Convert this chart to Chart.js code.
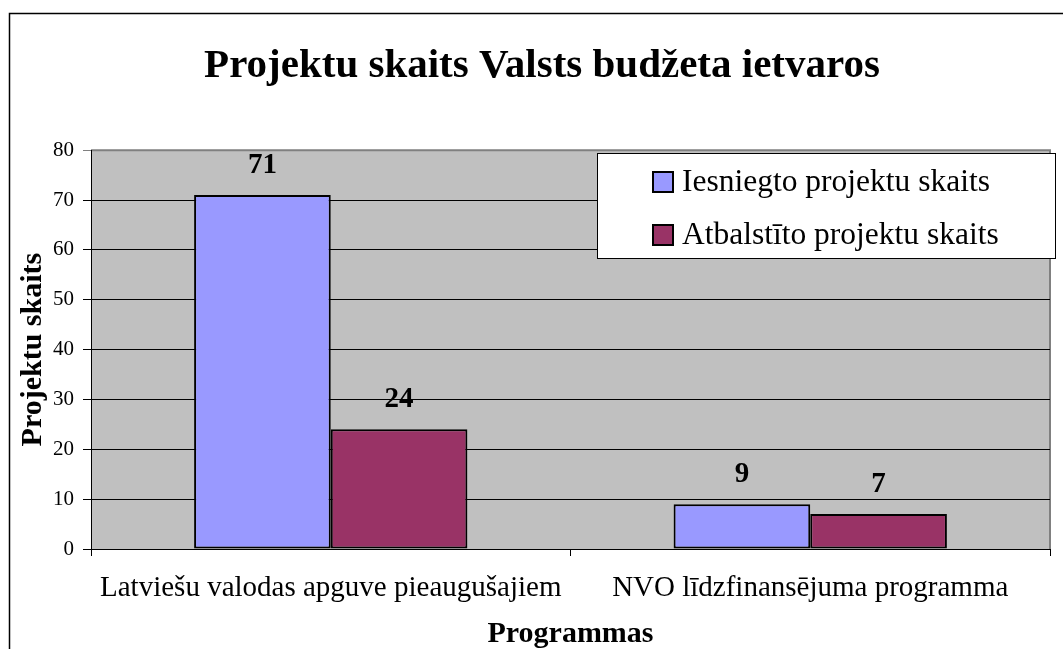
<!DOCTYPE html>
<html>
<head>
<meta charset="utf-8">
<script src="https://cdn.jsdelivr.net/npm/chart.js@4"></script>
<style>
  html, body { margin: 0; padding: 0; background: #fff; overflow: hidden; }
  #wrap { width: 1063px; height: 649px; }
</style>
</head>
<body>
<div id="wrap"><canvas id="chart"></canvas></div>
<script>
// ── Data ───────────────────────────────────────────────────────────────────
const programmas = ['Latviešu valodas apguve pieaugušajiem', 'NVO līdzfinansējuma programma'];
const iesniegti  = [71, 9];
const atbalstiti = [24, 7];
const yTicks     = [0, 10, 20, 30, 40, 50, 60, 70, 80];

const SERIF = '"Liberation Serif", "Times New Roman", serif';
Chart.defaults.font.family = SERIF;
Chart.defaults.color = '#000';

// ── Plot background, outer frame ───────────────────────────────────────────
const frame = {
  id: 'frame',
  beforeDraw(chart) {
    const { ctx, chartArea: a } = chart;
    ctx.save();
    ctx.fillStyle = '#fff';
    ctx.fillRect(0, 0, chart.width, chart.height);
    ctx.strokeStyle = '#000';
    ctx.lineWidth = 1.5;
    ctx.strokeRect(9.5, 13.5, 1200, 800);
    ctx.fillStyle = '#c0c0c0';
    ctx.fillRect(a.left, a.top, a.right - a.left, a.bottom - a.top);
    ctx.strokeStyle = '#808080';
    ctx.lineWidth = 2;
    ctx.beginPath();
    ctx.moveTo(a.left, a.top); ctx.lineTo(a.right, a.top); ctx.lineTo(a.right, a.bottom);
    ctx.stroke();
    ctx.restore();
  }
};

// ── Value labels above bars ────────────────────────────────────────────────
const valueLabels = {
  id: 'valueLabels',
  afterDatasetsDraw(chart) {
    const { ctx } = chart;
    ctx.save();
    ctx.font = 'bold 29px ' + SERIF;
    ctx.fillStyle = '#000';
    ctx.textAlign = 'center';
    ctx.textBaseline = 'alphabetic';
    chart.data.datasets.forEach((ds, i) => {
      chart.getDatasetMeta(i).data.forEach((bar, j) => {
        ctx.fillText(ds.data[j], bar.x, bar.y - 22);
      });
    });
    ctx.restore();
  }
};

// ── Boxed legend inside plot ───────────────────────────────────────────────
const boxLegend = {
  id: 'boxLegend',
  afterDraw(chart) {
    const { ctx } = chart;
    const x = 597, y = 153, w = 458, h = 105;
    ctx.save();
    ctx.fillStyle = '#fff';
    ctx.fillRect(x, y, w, h);
    ctx.strokeStyle = '#000';
    ctx.lineWidth = 1;
    ctx.strokeRect(x + 0.5, y + 0.5, w, h);
    ctx.font = '31.5px ' + SERIF;
    ctx.textBaseline = 'middle';
    ctx.textAlign = 'left';
    chart.data.datasets.forEach((ds, i) => {
      const cy = y + 29 + i * 53;
      ctx.fillStyle = ds.backgroundColor;
      ctx.fillRect(x + 56, cy - 10, 20, 20);
      ctx.strokeStyle = '#000';
      ctx.lineWidth = 2;
      ctx.strokeRect(x + 56, cy - 10, 20, 20);
      ctx.fillStyle = '#000';
      ctx.fillText(ds.label, x + 85, cy + 1);
    });
    ctx.restore();
  }
};

new Chart(document.getElementById('chart'), {
  type: 'bar',
  data: {
    labels: programmas,
    datasets: [
      { label: 'Iesniegto projektu skaits', data: iesniegti, backgroundColor: '#9999ff',
        borderColor: '#000', borderWidth: 2, borderSkipped: false },
      { label: 'Atbalstīto projektu skaits', data: atbalstiti, backgroundColor: '#993366',
        borderColor: '#000', borderWidth: 2, borderSkipped: false }
    ]
  },
  options: {
    responsive: true,
    maintainAspectRatio: false,
    animation: false,
    layout: { padding: { left: 34, right: 13, top: 0, bottom: 0 } },
    datasets: { bar: { categoryPercentage: 0.57, barPercentage: 1 } },
    plugins: {
      legend: { display: false },
      tooltip: { enabled: false },
      title: {
        display: true,
        text: 'Projektu skaits Valsts budžeta ietvaros',
        font: { size: 41, weight: 'bold', lineHeight: 1.2 },
        color: '#000',
        padding: { top: 42, bottom: 59 }
      }
    },
    scales: {
      x: {
        grid: { drawOnChartArea: false, tickLength: 7, color: '#000', offset: true },
        border: { color: '#000', width: 1 },
        ticks: { font: { size: 29 }, padding: 15, maxRotation: 0 },
        title: { display: true, text: 'Programmas', font: { size: 30, weight: 'bold', lineHeight: 1 },
                 padding: { top: 0, bottom: 0 } },
        afterFit(scale) { scale.height = 100; }
      },
      y: {
        min: 0, max: 80,
        afterBuildTicks(scale) { scale.ticks = yTicks.map(v => ({ value: v })); },
        grid: {
          tickLength: 8,
          color: ctx => ctx.tick && ctx.tick.value === 80 ? '#808080' : '#000'
        },
        border: { color: '#000', width: 1 },
        ticks: { font: { size: 21 }, padding: 9 },
        title: { display: true, text: 'Projektu skaits', font: { size: 30, weight: 'bold', lineHeight: 1 },
                 padding: { top: -16 } },
        afterFit(scale) { scale.width = 57; }
      }
    }
  },
  plugins: [frame, valueLabels, boxLegend]
});
</script>
</body>
</html>
